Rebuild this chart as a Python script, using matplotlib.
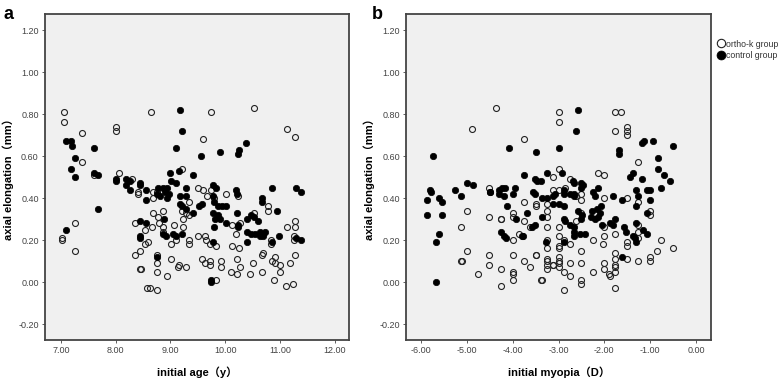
import numpy as np
import matplotlib
matplotlib.use("Agg")
import matplotlib.pyplot as plt
from matplotlib.ticker import FormatStrFormatter

plt.rcParams['font.family'] = ['Liberation Sans', 'Noto Sans CJK SC']

# panel a: initial age (y) vs axial elongation (mm)
age_orthok = [7.06, 7.06, 7.39, 8.00, 8.00, 7.39, 7.60, 8.06, 8.30, 8.40, 8.40, 8.36, 8.53, 7.26,
              7.02, 7.02, 7.26, 8.53, 8.45, 8.36, 8.45, 8.58, 8.65, 9.74, 9.59, 9.21, 8.68, 8.68,
              8.76, 9.34, 9.22, 9.34, 9.51, 9.60, 9.75, 9.66, 9.79, 10.02, 10.24, 10.13, 10.19,
              10.28, 10.13, 10.25, 10.22, 8.68, 8.78, 8.87, 8.79, 8.87, 8.67, 8.87, 9.29, 9.23,
              9.23, 9.06, 9.02, 9.11, 9.34, 9.34, 9.51, 9.63, 9.65, 9.72, 9.83, 8.75, 8.76, 8.75,
              8.93, 9.02, 9.16, 9.28, 9.14, 9.57, 9.63, 9.72, 9.72, 9.93, 9.93, 10.11, 10.22, 10.28,
              9.83, 8.76, 8.62, 10.52, 11.13, 11.27, 10.78, 10.78, 10.52, 11.13, 11.27, 11.27,
              11.25, 11.25, 10.84, 10.84, 11.27, 10.70, 10.67, 10.91, 10.86, 10.91, 11.00, 11.01,
              11.18, 10.50, 10.45, 10.67, 10.89, 11.12, 11.23, 8.59, 8.46]
elong_orthok_a = [0.81, 0.76, 0.71, 0.74, 0.72, 0.57, 0.51, 0.52, 0.49, 0.43, 0.42, 0.28, 0.25, 0.28,
                  0.21, 0.20, 0.15, 0.18, 0.15, 0.13, 0.06, -0.03, 0.81, 0.81, 0.68, 0.54, 0.43, 0.40,
                  0.43, 0.38, 0.34, 0.32, 0.45, 0.44, 0.44, 0.41, 0.40, 0.42, 0.41, 0.27, 0.23,
                  0.28, 0.17, 0.16, 0.11, 0.33, 0.31, 0.34, 0.28, 0.26, 0.26, 0.24, 0.33, 0.30,
                  0.26, 0.27, 0.18, 0.20, 0.18, 0.20, 0.22, 0.22, 0.20, 0.18, 0.17, 0.13, 0.09, 0.05,
                  0.03, 0.11, 0.08, 0.07, 0.07, 0.11, 0.09, 0.10, 0.08, 0.10, 0.07, 0.05, 0.04, 0.07,
                  0.01, -0.04, -0.03, 0.83, 0.73, 0.69, 0.36, 0.34, 0.33, 0.26, 0.29, 0.26,
                  0.22, 0.20, 0.20, 0.18, 0.13, 0.14, 0.13, 0.12, 0.10, 0.09, 0.08, 0.05,
                  0.09, 0.09, 0.04, 0.05, 0.01, -0.02, -0.01, 0.19, 0.06]

age_control = [7.09, 7.18, 7.20, 7.60, 7.26, 7.19, 7.26, 7.60, 7.68, 8.00, 8.00, 8.19, 8.26, 8.19,
               8.26, 8.44, 8.44, 8.56, 8.56, 7.68, 8.45, 8.56, 7.09, 8.45, 9.18, 9.21, 9.10, 10.38,
               10.26, 10.24, 9.91, 9.55, 8.99, 9.16, 9.42, 9.02, 9.10, 8.78, 8.86, 8.94, 8.76, 8.90,
               8.98, 8.81, 8.93, 9.18, 9.29, 9.29, 9.18, 9.22, 9.29, 9.41, 9.52, 9.57, 9.78, 9.83,
               9.78, 9.79, 9.87, 9.95, 10.01, 10.19, 10.22, 9.78, 9.87, 9.81, 9.90, 10.01, 9.79,
               10.22, 10.24, 10.24, 10.40, 10.39, 10.39, 8.88, 8.87, 8.92, 9.05, 9.21, 9.11, 9.77,
               8.76, 9.75, 9.75, 10.86, 11.29, 11.39, 10.67, 10.67, 10.95, 10.48, 10.52, 10.60,
               10.48, 10.54, 10.63, 10.69, 10.72, 10.63, 10.70, 10.86, 10.98, 11.29, 11.39, 8.44]
elong_control_a = [0.67, 0.67, 0.65, 0.64, 0.59, 0.54, 0.50, 0.52, 0.51, 0.49, 0.48, 0.49, 0.48, 0.46,
                   0.44, 0.47, 0.46, 0.44, 0.39, 0.35, 0.29, 0.28, 0.25, 0.22, 0.82, 0.72, 0.64, 0.66,
                   0.63, 0.61, 0.62, 0.60, 0.52, 0.53, 0.51, 0.48, 0.47, 0.45, 0.45, 0.45, 0.42, 0.43,
                   0.42, 0.41, 0.40, 0.41, 0.45, 0.41, 0.37, 0.36, 0.35, 0.33, 0.36, 0.37, 0.46, 0.45,
                   0.41, 0.38, 0.36, 0.36, 0.36, 0.44, 0.42, 0.33, 0.32, 0.30, 0.30, 0.28, 0.26,
                   0.33, 0.27, 0.26, 0.30, 0.24, 0.19, 0.30, 0.23, 0.22, 0.23, 0.23, 0.22, 0.19,
                   0.12, 0.01, 0.00, 0.45, 0.45, 0.43, 0.40, 0.38, 0.34, 0.32, 0.31, 0.29,
                   0.23, 0.23, 0.24, 0.23, 0.24, 0.22, 0.22, 0.19, 0.22, 0.21, 0.20, 0.21]

# panel b: initial myopia (D) vs axial elongation (mm)
myopia_orthok = [-4.37, -4.88, -4.99, -5.13, -4.51, -4.51, -4.26, -4.99, -5.13, -5.11, -4.51, -4.51,
                 -4.75, -4.26, -4.26, -4.00, -4.00, -4.00, -4.00, -3.75, -3.62, -3.50, -3.38,
                 -4.25, -3.75, -3.75, -3.87, -3.62, -3.26, -3.26, -3.26, -3.26, -3.13, -3.00, -3.00,
                 -2.88, -2.88, -2.75, -2.75, -2.51, -2.51, -2.51, -2.51, -2.25, -2.01, -2.01, -1.89,
                 -1.76, -1.76, -1.76, -1.76, -1.76, -3.00, -3.00, -3.75, -3.00, -3.12, -2.76, -2.13,
                 -2.00, -3.12, -3.00, -2.86, -2.62, -2.51, -2.51, -2.00, -3.49, -3.49, -4.00, -4.00,
                 -3.26, -3.26, -3.26, -3.00, -3.00, -2.75, -3.00, -2.89, -3.26, -3.26, -3.49, -3.26,
                 -3.12, -3.00, -3.00, -3.00, -4.00, -3.36, -2.25, -2.02, -2.00, -2.00, -1.76, -1.63,
                 -1.76, -1.51, -1.51, -1.51, -1.26, -1.51, -1.26, -1.00, -1.00, -1.26, -1.26, -1.26,
                 -1.76, -1.51, -1.51, -0.76, -0.50, -0.85, -1.51, -1.26, -1.00, -1.00, -1.76, -1.87,
                 -2.51, -2.62]
elong_orthok_b = [0.83, 0.73, 0.34, 0.26, 0.45, 0.31, 0.30, 0.15, 0.10, 0.10, 0.13, 0.08,
                  0.04, 0.06, -0.02, 0.20, 0.13, 0.04, 0.01, 0.10, 0.07, 0.13, 0.01,
                  0.30, 0.29, 0.38, 0.23, 0.26, 0.10, 0.06, 0.08, 0.16, 0.08, 0.10, 0.07,
                  0.05, -0.04, 0.09, 0.03, 0.09, 0.01, -0.01, 0.15, 0.05, 0.09, 0.06, 0.04,
                  0.08, 0.05, -0.03, 0.11, 0.14, 0.81, 0.76, 0.68, 0.54, 0.50, 0.49, 0.52,
                  0.51, 0.44, 0.44, 0.45, 0.41, 0.42, 0.39, 0.40, 0.37, 0.36, 0.33, 0.31,
                  0.37, 0.34, 0.31, 0.26, 0.22, 0.18, 0.17, 0.20, 0.26, 0.20, 0.13, 0.11,
                  0.08, 0.16, 0.12, 0.09, 0.05, 0.01, 0.20, 0.18, 0.26, 0.22, 0.81, 0.81,
                  0.72, 0.74, 0.72, 0.70, 0.57, 0.40, 0.38, 0.34, 0.32, 0.27, 0.24, 0.21,
                  0.23, 0.19, 0.17, 0.20, 0.16, 0.15, 0.11, 0.10, 0.12, 0.10, 0.07, 0.03,
                  0.33, 0.29]

myopia_control = [-4.08, -5.74, -5.80, -5.79, -5.88, -5.62, -5.55, -5.88, -5.55, -5.25, -5.13, -4.99,
                  -4.86, -4.49, -4.31, -4.24, -4.17, -4.29, -4.19, -4.13, -5.62, -5.67, -4.26, -4.19,
                  -4.14, -5.67, -2.57, -2.62, -3.49, -3.00, -2.93, -3.75, -3.26, -3.51, -3.46, -3.39,
                  -2.69, -2.51, -2.46, -2.51, -2.13, -3.95, -4.00, -3.55, -3.51, -3.37, -3.26, -3.11,
                  -3.07, -2.88, -2.88, -2.67, -2.67, -2.67, -2.75, -2.25, -2.20, -2.27, -2.15, -2.08,
                  -2.09, -2.13, -2.20, -2.29, -2.57, -2.49, -2.51, -3.12, -3.00, -2.88, -3.68, -3.93,
                  -3.37, -2.89, -2.86, -2.76, -2.67, -2.66, -2.53, -2.42, -2.67, -3.27, -2.88, -3.58,
                  -3.51, -3.77, -3.80, -2.06, -1.18, -1.13, -0.94, -0.50, -1.69, -1.69, -0.82, -0.82,
                  -0.69, -0.56, -1.38, -1.44, -1.18, -0.76, -1.31, -1.07, -1.00, -1.81, -1.62, -1.26,
                  -1.00, -1.31, -1.07, -1.76, -1.87, -1.81, -1.31, -1.58, -1.52, -1.38, -1.33, -1.31,
                  -1.15, -1.06, -1.62, -4.50]
elong_control_b = [0.64, 0.60, 0.44, 0.43, 0.39, 0.40, 0.38, 0.32, 0.32, 0.44, 0.41, 0.47,
                   0.46, 0.43, 0.44, 0.45, 0.45, 0.42, 0.41, 0.36, 0.23, 0.19, 0.24, 0.22,
                   0.21, 0.00, 0.82, 0.72, 0.62, 0.64, 0.52, 0.51, 0.52, 0.49, 0.48, 0.48,
                   0.48, 0.47, 0.46, 0.45, 0.45, 0.45, 0.42, 0.43, 0.42, 0.40, 0.40, 0.41,
                   0.42, 0.44, 0.42, 0.47, 0.42, 0.41, 0.42, 0.43, 0.41, 0.34, 0.35, 0.36,
                   0.33, 0.31, 0.30, 0.31, 0.34, 0.32, 0.30, 0.37, 0.37, 0.36, 0.33, 0.30,
                   0.31, 0.30, 0.29, 0.27, 0.26, 0.24, 0.23, 0.23, 0.22, 0.19, 0.19, 0.26,
                   0.27, 0.22, 0.22, 0.27, 0.66, 0.67, 0.67, 0.65, 0.63, 0.61, 0.59, 0.54,
                   0.51, 0.48, 0.52, 0.50, 0.49, 0.45, 0.44, 0.44, 0.44, 0.41, 0.39, 0.41,
                   0.39, 0.36, 0.33, 0.30, 0.28, 0.27, 0.28, 0.26, 0.24, 0.22, 0.21, 0.19,
                   0.25, 0.23, 0.12, 0.43]

y_ticks = [-0.20, 0.00, 0.20, 0.40, 0.60, 0.80, 1.00, 1.20]
age_ticks = [7, 8, 9, 10, 11, 12]
myopia_ticks = [-6, -5, -4, -3, -2, -1, 0]

fig = plt.figure(figsize=(7.78, 3.79), dpi=100)
ax1 = fig.add_axes([0.0578, 0.1029, 0.3907, 0.860])
ax2 = fig.add_axes([0.5219, 0.1029, 0.3920, 0.860])

for ax, xo, yo, xc, yc in [(ax1, age_orthok, elong_orthok_a, age_control, elong_control_a),
                           (ax2, myopia_orthok, elong_orthok_b, myopia_control, elong_control_b)]:
    ax.set_facecolor('#f0f0f0')
    ax.plot(xo, yo, 'o', ms=4.3, mfc='none', mec='#222222', mew=0.8, label='ortho-k group')
    ax.plot(xc, yc, 'o', ms=4.6, mfc='black', mec='black', mew=0.5, label='control group')
    ax.set_ylim(-0.276, 1.276)
    ax.set_yticks(y_ticks)
    ax.yaxis.set_major_formatter(FormatStrFormatter('%.2f'))
    ax.xaxis.set_major_formatter(FormatStrFormatter('%.2f'))
    ax.tick_params(labelsize=6.5, labelcolor='#444444', length=2.5, width=0.6, color='#444444', pad=2)
    for s in ax.spines.values():
        s.set_color('#444444')
        s.set_linewidth(1.3)
    ax.set_ylabel('axial elongation（mm）', fontsize=8, fontweight='bold', labelpad=3)

ax1.set_xlim(6.71, 12.26)
ax1.set_xticks(age_ticks)
ax1.set_xlabel('initial age（y）', fontsize=8, fontweight='bold', labelpad=8)
ax2.set_xlim(-6.33, 0.33)
ax2.set_xticks(myopia_ticks)
ax2.set_xlabel('initial myopia（D）', fontsize=8, fontweight='bold', labelpad=8)

fig.text(0.004, 0.985, 'a', fontsize=13, fontweight='bold', va='top')
fig.text(0.478, 0.985, 'b', fontsize=13, fontweight='bold', va='top')

fig.legend(handles=ax2.get_lines(), loc='upper left', bbox_to_anchor=(0.917, 0.905),
           frameon=False, fontsize=6.3, handletextpad=0.1, handlelength=0.9, markerscale=1.4,
           borderaxespad=0, labelspacing=0.3, labelcolor='#333333')

fig.savefig('out.png', dpi=100)
